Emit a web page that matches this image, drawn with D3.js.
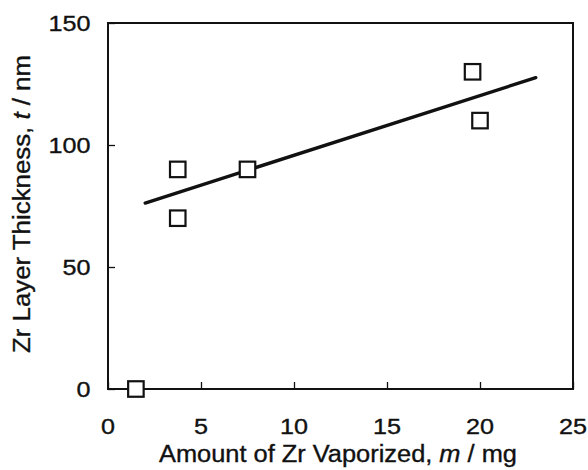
<!DOCTYPE html>
<html>
<head>
<meta charset="utf-8">
<script src="https://cdn.jsdelivr.net/npm/d3@7/dist/d3.min.js"></script>
<style>
  html, body { margin: 0; padding: 0; background: #fff; }
  svg { display: block; font-family: "Liberation Sans", Arial, Helvetica, sans-serif; }
</style>
</head>
<body>
<svg id="chart" width="588" height="470"></svg>
<script>
// Measured Zr layer thickness against the mass of Zr vaporized
const massMg = [1.5, 3.75, 3.75, 7.5, 19.6, 20.0];
const thicknessNm = [0, 90, 70, 90, 130, 110];

// Least-squares fit line, drawn between these two end points
const fitMass = [2.0, 23.0];
const fitThickness = [76.2, 127.6];

// Axis ticks
const xTicks = [0, 5, 10, 15, 20, 25];
const yTicks = [0, 50, 100, 150];

const svg = d3.select("#chart");
const plot = { left: 108, right: 573, top: 23, bottom: 389 };

const x = d3.scaleLinear().domain([0, 25]).range([plot.left, plot.right]);
const y = d3.scaleLinear().domain([0, 150]).range([plot.bottom, plot.top]);

const ink = "#111";

// Axes with short inward ticks
const xAxis = d3.axisBottom(x).tickValues(xTicks).tickSize(-7).tickFormat("");
const yAxis = d3.axisLeft(y).tickValues(yTicks).tickSize(-7).tickFormat("");

const gx = svg.append("g").attr("transform", `translate(0,${plot.bottom})`).call(xAxis);
const gy = svg.append("g").attr("transform", `translate(${plot.left},0)`).call(yAxis);
[gx, gy].forEach(g => {
  g.select(".domain").remove();
  g.selectAll(".tick line").attr("stroke", ink).attr("stroke-width", 1.3);
});

// Frame around the plot area
svg.append("rect")
  .attr("x", plot.left).attr("y", plot.top)
  .attr("width", plot.right - plot.left).attr("height", plot.bottom - plot.top)
  .attr("fill", "none").attr("stroke", ink).attr("stroke-width", 2);

// Shared text styling: a slightly wide, slightly heavy face
function textStyle(sel, size) {
  sel.attr("font-size", size).attr("fill", ink)
    .attr("stroke", ink).attr("stroke-width", 0.35)
    .attr("lengthAdjust", "spacingAndGlyphs");
}

// Tick labels
const digitW = 14;
svg.append("g").selectAll("text").data(xTicks).join("text")
  .attr("x", d => x(d)).attr("y", 433.5)
  .attr("text-anchor", "middle")
  .call(textStyle, 22)
  .attr("textLength", d => String(d).length * digitW)
  .text(d => d);

svg.append("g").selectAll("text").data(yTicks).join("text")
  .attr("x", 90.5).attr("y", d => y(d) + 8)
  .attr("text-anchor", "end")
  .call(textStyle, 22)
  .attr("textLength", d => String(d).length * digitW)
  .text(d => d);

// Axis titles
const xTitle = svg.append("text")
  .attr("x", 338).attr("y", 462)
  .attr("text-anchor", "middle")
  .call(textStyle, 23)
  .attr("textLength", 358);
xTitle.append("tspan").text("Amount of Zr Vaporized, ");
xTitle.append("tspan").attr("font-style", "italic").text("m");
xTitle.append("tspan").text(" / mg");

const yTitle = svg.append("text")
  .attr("transform", "translate(30,204) rotate(-90)")
  .attr("text-anchor", "middle")
  .call(textStyle, 23)
  .attr("textLength", 298);
yTitle.append("tspan").text("Zr Layer Thickness, ");
yTitle.append("tspan").attr("font-style", "italic").text("t");
yTitle.append("tspan").text(" / nm");

// Fit line
const fit = fitMass.map((m, i) => [m, fitThickness[i]]);
svg.append("path")
  .datum(fit)
  .attr("d", d3.line().x(d => x(d[0])).y(d => y(d[1])))
  .attr("fill", "none").attr("stroke", ink).attr("stroke-width", 3.4)
  .attr("stroke-linecap", "round");

// Open square markers
const side = 15.5;
svg.append("g").selectAll("rect")
  .data(massMg.map((m, i) => [m, thicknessNm[i]]))
  .join("rect")
  .attr("x", d => x(d[0]) - side / 2)
  .attr("y", d => y(d[1]) - side / 2)
  .attr("width", side).attr("height", side)
  .attr("fill", "#fff").attr("stroke", ink).attr("stroke-width", 2.2);
</script>
</body>
</html>
